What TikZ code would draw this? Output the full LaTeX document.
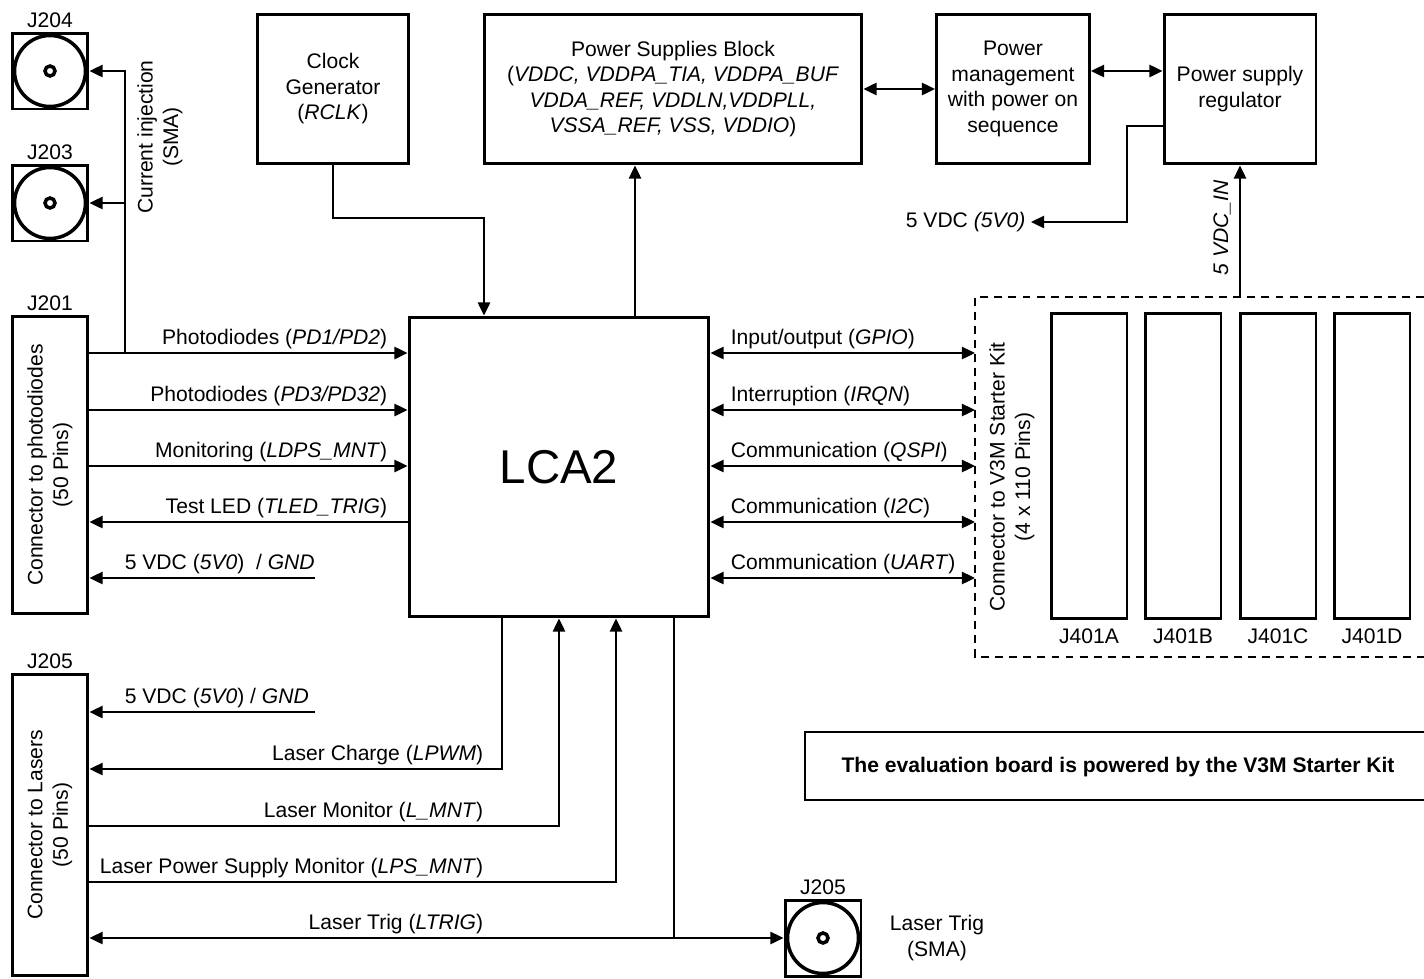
\documentclass[tikz,border=0pt]{standalone}
\usepackage{fontspec}
\setmainfont{Liberation Sans}
\usetikzlibrary{positioning, arrows.meta}

\begin{document}
\begin{tikzpicture}[x=0.02cm, y=-0.02cm, font=\fontsize{12}{14.5}\selectfont,
    >={Triangle[length=7.5pt,width=7pt]}]
    \tikzset{
      box/.style={
        rectangle, draw=black, line width=1.7pt,
        align=center, inner sep=2pt
      },
      jack/.style={
        rectangle, draw=black, line width=1.7pt,
        minimum size=1.52cm, inner sep=0pt
      },
      sig/.style={line width=1.1pt},
      lbl/.style={inner sep=2pt, align=center}
    }
    \useasboundingbox (0,0) rectangle (1424,978);

    % SMA jacks, current injection
    \foreach \jk/\yy in {j204/71, j203/203} {
      \node[jack] (\jk) at (50,\yy) {};
      \draw[line width=2pt] (\jk.center) circle[radius=0.71cm];
      \draw[line width=2pt] (\jk.center) circle[radius=0.1cm];
    }
    \node[lbl, above=0pt of j204] (tj204) {J204};
    \node[lbl, above=0pt of j203] (tj203) {J203};
    \node[lbl, rotate=90] (tci) at (160,137) {Current injection\\(SMA)};

    % Connectors on the left
    \node[box, minimum width=1.52cm, minimum height=5.94cm] (j201) at (50,465) {};
    \node[lbl, rotate=90] at (j201.center) (tj201c) {Connector to photodiodes\\(50 Pins)};
    \node[lbl, above=0pt of j201] (tj201) {J201};
    \node[box, minimum width=1.52cm, minimum height=6.04cm] (j205) at (50,825) {};
    \node[lbl, rotate=90] at (j205.center) (tj205c) {Connector to Lasers\\(50 Pins)};
    \node[lbl, above=0pt of j205] (tj205) {J205};

    % Row 1
    \node[box, minimum width=3.04cm, minimum height=3cm] (clk) at (333,89)
      {Clock\\Generator\\(\textit{RCLK})};
    \node[box, minimum width=7.56cm, minimum height=3cm] (psb) at (673,89)
      {Power Supplies Block\\(\textit{VDDC, VDDPA\_TIA, VDDPA\_BUF}\\\textit{VDDA\_REF, VDDLN,VDDPLL,}\\\textit{VSSA\_REF, VSS, VDDIO})};
    \node[box, minimum width=3.06cm, minimum height=3cm] (pm) at (1013,89)
      {Power\\management\\with power on\\sequence};
    \node[box, minimum width=3.04cm, minimum height=3cm] (reg) at (1240,89)
      {Power supply\\regulator};

    % Main chip
    \node[box, minimum width=6cm, minimum height=6cm,
          font=\fontsize{27}{32}\selectfont] (lca) at (559,467) {LCA2};

    % V3M starter kit
    \draw[line width=0.8pt, dash pattern=on 4.5pt off 3.5pt]
      (1424,297) -| (975,657) -- (1424,657);
    \coordinate (kitL) at (975,297);
    \coordinate (kitT) at (1240,297);
    \node[lbl, rotate=90] (tkit) at (1012,477) {Connector to V3M Starter Kit\\(4 x 110 Pins)};
    \foreach \col/\xx in {A/1089, B/1183, C/1278, D/1372} {
      \node[box, minimum width=1.52cm, minimum height=6.1cm] (j401\col) at (\xx,466) {};
      \node[lbl, below=3pt of j401\col] (tj401\col) {J401\col};
    }

    % Power path
    \draw[sig,->] (clk.south) |- (484,218) -- (lca.north -| 484,218);
    \draw[sig,->] (lca.north -| 635,0) -- (psb.south -| 635,0);
    \draw[sig,<->] (psb.east) -- (pm.west);
    \draw[sig,<->] (pm.east |- 0,71) -- (reg.west |- 0,71);
    \node[lbl, anchor=east, inner sep=3pt] (t5v) at (1031,222) {5 VDC \textit{(5V0)}};
    \draw[sig,->] (reg.west |- 0,126) -- (1127,126) |- (t5v.east);
    \draw[sig,->] (kitT) -- (reg.south);
    \node[lbl, rotate=90] (t5vin) at (1222,228) {\textit{5 VDC\_IN}};

    % Photodiode connector signals
    \coordinate (ci) at (125,353);
    \draw[sig,->] (ci) |- (j204.east);
    \draw[sig,->] (ci) |- (j203.east);
    \draw[sig,->] (j201.east |- 0,353) -- (lca.west |- 0,353);
    \node[lbl, anchor=south east] (tpd1) at (391,353) {Photodiodes (\textit{PD1/PD2})};
    \draw[sig,->] (j201.east |- 0,410) -- (lca.west |- 0,410);
    \node[lbl, anchor=south east] (tpd3) at (391,410) {Photodiodes (\textit{PD3/PD32})};
    \draw[sig,->] (j201.east |- 0,466) -- (lca.west |- 0,466);
    \node[lbl, anchor=south east] (tldps) at (391,466) {Monitoring (\textit{LDPS\_MNT})};
    \draw[sig,<-] (j201.east |- 0,522) -- (lca.west |- 0,522);
    \node[lbl, anchor=south east] (ttled) at (391,522) {Test LED (\textit{TLED\_TRIG})};
    \coordinate (g1) at (315,578);
    \draw[sig,->] (g1) -- (j201.east |- g1);
    \node[lbl, anchor=south west] (tg1) at (121,578) {5 VDC (\textit{5V0})\ \ / \textit{GND}};

    % Kit signals
    \draw[sig,<->] (lca.east |- 0,353) -- (kitL |- 0,353);
    \node[lbl, anchor=south west] (tgpio) at (727,353) {Input/output (\textit{GPIO})};
    \draw[sig,<->] (lca.east |- 0,410) -- (kitL |- 0,410);
    \node[lbl, anchor=south west] (tirqn) at (727,410) {Interruption (\textit{IRQN})};
    \draw[sig,<->] (lca.east |- 0,466) -- (kitL |- 0,466);
    \node[lbl, anchor=south west] (tqspi) at (727,466) {Communication (\textit{QSPI})};
    \draw[sig,<->] (lca.east |- 0,522) -- (kitL |- 0,522);
    \node[lbl, anchor=south west] (ti2c) at (727,522) {Communication (\textit{I2C})};
    \draw[sig,<->] (lca.east |- 0,578) -- (kitL |- 0,578);
    \node[lbl, anchor=south west] (tuart) at (727,578) {Communication (\textit{UART})};

    % Laser connector signals
    \coordinate (g2) at (315,712);
    \draw[sig,->] (g2) -- (j205.east |- g2);
    \node[lbl, anchor=south west] (tg2) at (121,712) {5 VDC (\textit{5V0}) / \textit{GND}};
    \draw[sig,->] (lca.south -| 502,0) |- (j205.east |- 0,769);
    \node[lbl, anchor=south east] (tlpwm) at (487,769) {Laser Charge (\textit{LPWM})};
    \draw[sig,->] (j205.east |- 0,826) -| (lca.south -| 559,0);
    \node[lbl, anchor=south east] (tlmnt) at (487,826) {Laser Monitor (\textit{L\_MNT})};
    \draw[sig,->] (j205.east |- 0,882) -| (lca.south -| 616,0);
    \node[lbl, anchor=south east] (tlps) at (487,882) {Laser Power Supply Monitor (\textit{LPS\_MNT})};
    \node[jack] (j205sma) at (823,938) {};
    \draw[line width=2pt] (j205sma.center) circle[radius=0.71cm];
    \draw[line width=2pt] (j205sma.center) circle[radius=0.1cm];
    \node[lbl, above=0pt of j205sma] (tj205sma) {J205};
    \node[lbl] (tsma) at (937,938) {Laser Trig\\(SMA)};
    \coordinate (lt) at (674,938);
    \draw[sig] (lca.south -| lt) -- (lt);
    \draw[sig,->] (lt) -- (j205.east |- lt);
    \draw[sig,->] (lt) -- (j205sma.west);
    \node[lbl, anchor=south east] (tltrig) at (487,938) {Laser Trig (\textit{LTRIG})};

    % Note
    \draw[line width=0.8pt] (1424,732) -| (805,800) -- (1424,800);
    \node[lbl, font=\fontsize{12}{14.5}\selectfont\bfseries] (note) at (1118,767)
      {The evaluation board is powered by the V3M Starter Kit};
  \end{tikzpicture}
\end{document}
